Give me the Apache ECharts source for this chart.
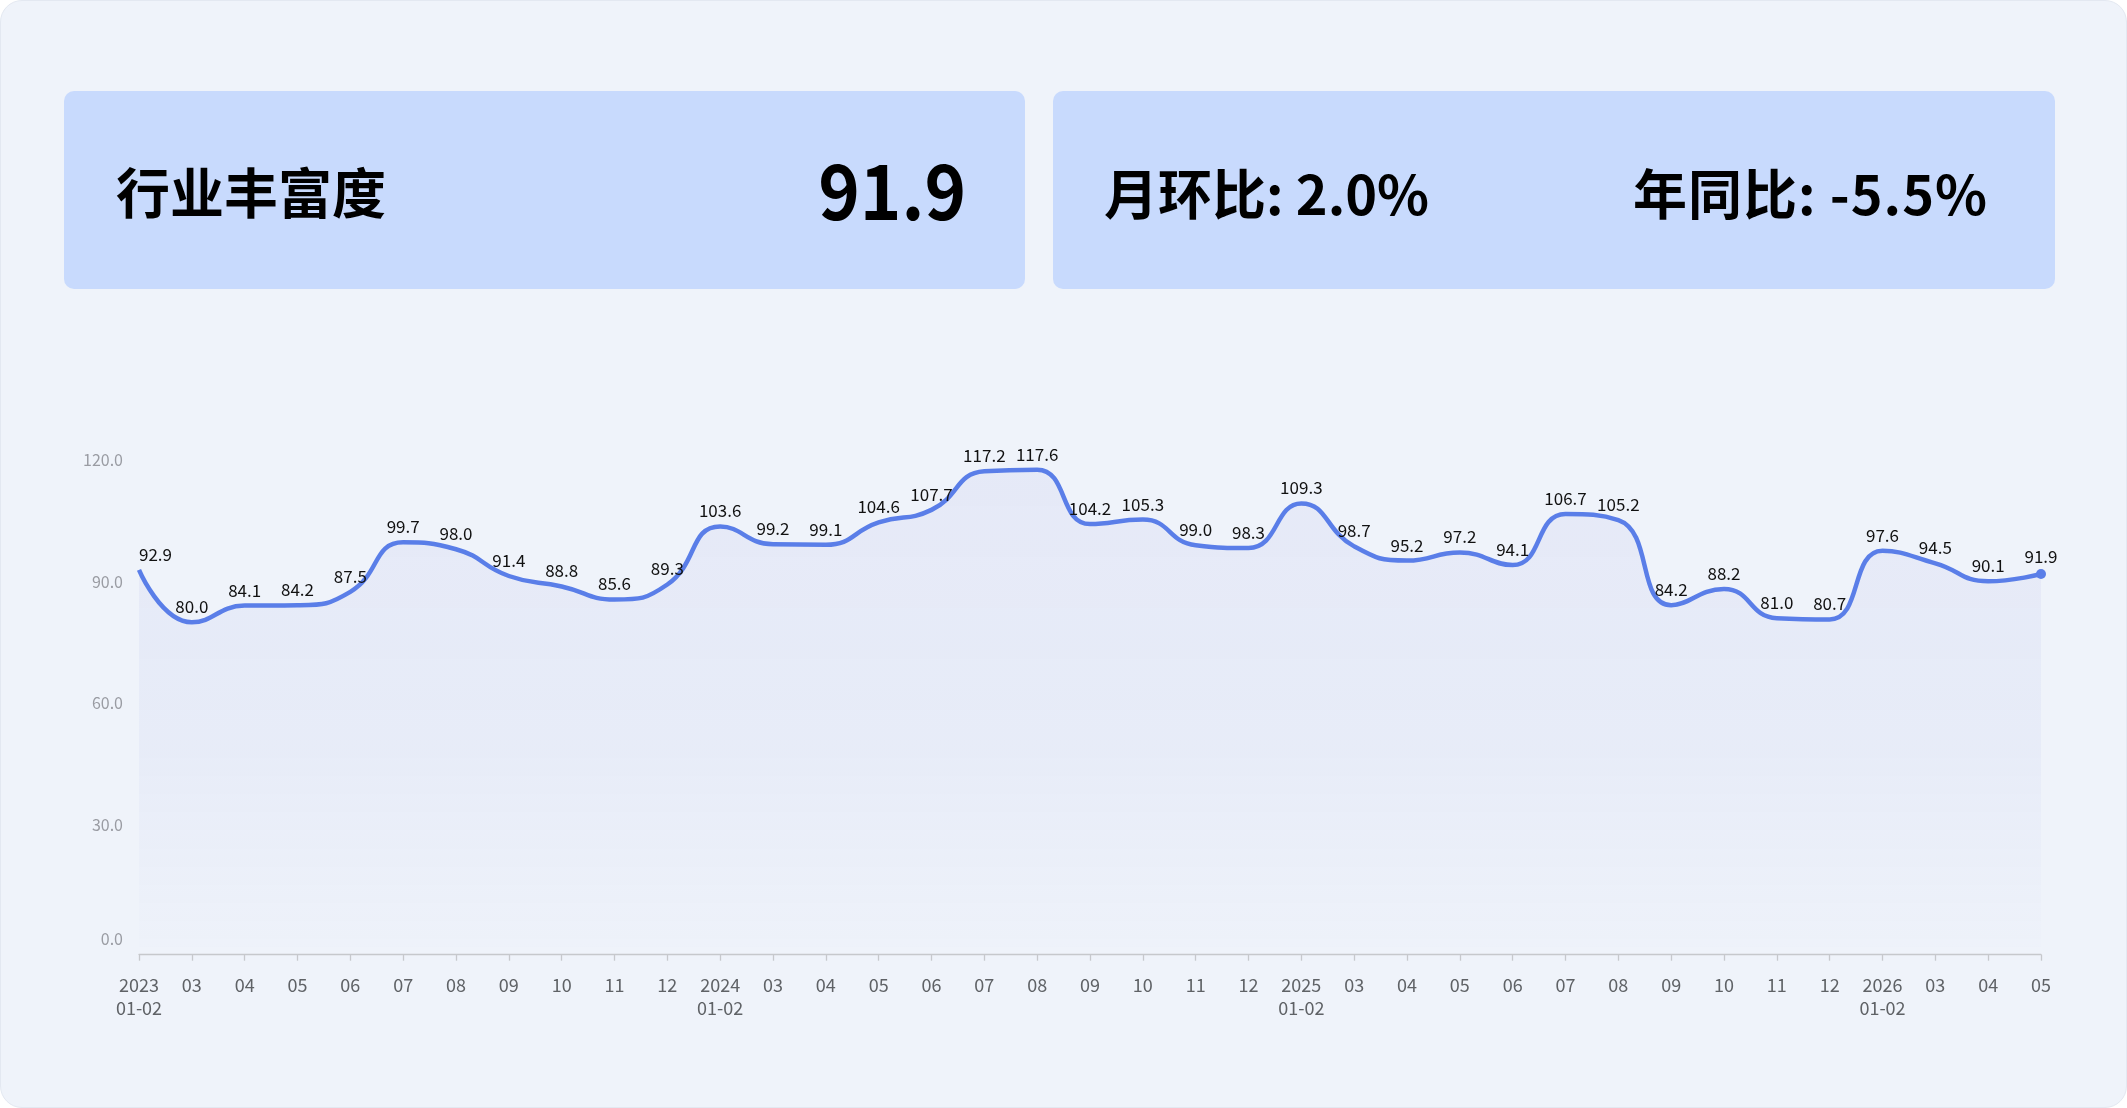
<!DOCTYPE html>
<html><head><meta charset="utf-8">
<script src="https://cdn.jsdelivr.net/npm/echarts@6/dist/echarts.min.js"></script>
<style>
html,body{margin:0;padding:0;background:#ffffff;width:2127px;height:1108px;overflow:hidden;font-family:"Noto Sans CJK SC","Noto Sans",sans-serif;}
#card{position:absolute;left:0;top:0;width:2127px;height:1108px;box-sizing:border-box;border-radius:22px;background:#eff3fa;border:1px solid #e3e8f1;}
.box{position:absolute;top:91px;height:198px;background:#c8dafd;border-radius:10px;}
.t{position:absolute;font-weight:700;color:#000;white-space:nowrap;line-height:1;}
#chart{position:absolute;left:0;top:0;width:2127px;height:1108px;}
</style></head>
<body>
<div id="card"></div>
<div class="box" style="left:64px;width:961px;"></div>
<div class="box" style="left:1053px;width:1002px;"></div>
<div class="t" id="kpiTitle" style="left:116px;top:164px;font-size:54px;"></div>
<div class="t" id="kpiValue" style="right:1161px;top:149px;font-size:76px;transform:scaleX(0.93);transform-origin:right center;"></div>
<div class="t" id="kpiMom" style="left:1104px;top:165px;font-size:54px;"></div>
<div class="t" id="kpiYoy" style="right:139px;top:165px;font-size:54px;letter-spacing:1px;"></div>
<div id="chart"></div>
<script>
// ---- data ----
const kpiTitle = '行业丰富度';
const kpiValue = 91.9;
const momChange = 2.0;   // 月环比 %
const yoyChange = -5.5;  // 年同比 %

const categories = [
  '2023\n01-02','03','04','05','06','07','08','09','10','11','12',
  '2024\n01-02','03','04','05','06','07','08','09','10','11','12',
  '2025\n01-02','03','04','05','06','07','08','09','10','11','12',
  '2026\n01-02','03','04','05'
];
const values = [
  92.9, 80.0, 84.1, 84.2, 87.5, 99.7, 98.0, 91.4, 88.8, 85.6, 89.3,
  103.6, 99.2, 99.1, 104.6, 107.7, 117.2, 117.6, 104.2, 105.3, 99.0, 98.3,
  109.3, 98.7, 95.2, 97.2, 94.1, 106.7, 105.2, 84.2, 88.2, 81.0, 80.7,
  97.6, 94.5, 90.1, 91.9
];
const yMin = 0, yMax = 120, yStep = 30;

// ---- KPI texts ----
document.getElementById('kpiTitle').textContent = kpiTitle;
document.getElementById('kpiValue').textContent = kpiValue.toFixed(1);
document.getElementById('kpiMom').textContent = '月环比: ' + momChange.toFixed(1) + '%';
document.getElementById('kpiYoy').textContent = '年同比: ' + yoyChange.toFixed(1) + '%';

// ---- chart ----
const FONT = '"Noto Sans CJK SC", "Noto Sans", sans-serif';
const lineColor = '#5a7ee8';
const last = values.length - 1;
const seriesData = values.map((v, i) => {
  if (i === 0) return { value: v, label: { align: 'left' } };
  if (i === last) return { value: v, label: { distance: 4 } };
  return v;
});

const chart = echarts.init(document.getElementById('chart'), null, { renderer: 'canvas' });
chart.setOption({
  animation: false,
  backgroundColor: 'transparent',
  grid: { left: 139, right: 86, top: 460, bottom: 161.3 },
  xAxis: {
    type: 'category',
    data: categories,
    boundaryGap: false,
    offset: 8,
    axisLine: { show: true, onZero: false, lineStyle: { color: '#c6c8cc', width: 1.3 } },
    axisTick: { show: true, length: 6, interval: 0, lineStyle: { color: '#c6c8cc', width: 1.3 } },
    axisLabel: { interval: 0, color: '#5f6266', fontSize: 18, lineHeight: 23, margin: 19, fontFamily: FONT },
    splitLine: { show: false }
  },
  yAxis: {
    type: 'value',
    min: yMin, max: yMax, interval: yStep,
    axisLine: { show: false },
    axisTick: { show: false },
    splitLine: { show: false },
    axisLabel: {
      color: '#9a9ca3', fontSize: 16, margin: 16, fontFamily: FONT,
      verticalAlignMinLabel: 'bottom',
      formatter: v => Number(v).toFixed(1)
    }
  },
  series: [{
    type: 'line',
    data: seriesData,
    smooth: true,
    symbol: 'circle',
    symbolSize: (v, p) => (p.dataIndex === last ? 10 : 0),
    showSymbol: true,
    lineStyle: { color: lineColor, width: 4.5 },
    itemStyle: { color: lineColor },
    label: {
      show: true, position: 'top', distance: 7,
      color: '#111', fontSize: 17, fontFamily: FONT,
      formatter: p => Number(p.value).toFixed(1)
    },
    areaStyle: {
      color: new echarts.graphic.LinearGradient(0, 0, 0, 1, [
        { offset: 0, color: 'rgba(105,118,215,0.10)' },
        { offset: 0.6, color: 'rgba(105,118,215,0.07)' },
        { offset: 1, color: 'rgba(105,118,215,0.01)' }
      ])
    }
  }]
});
</script>
</body></html>
